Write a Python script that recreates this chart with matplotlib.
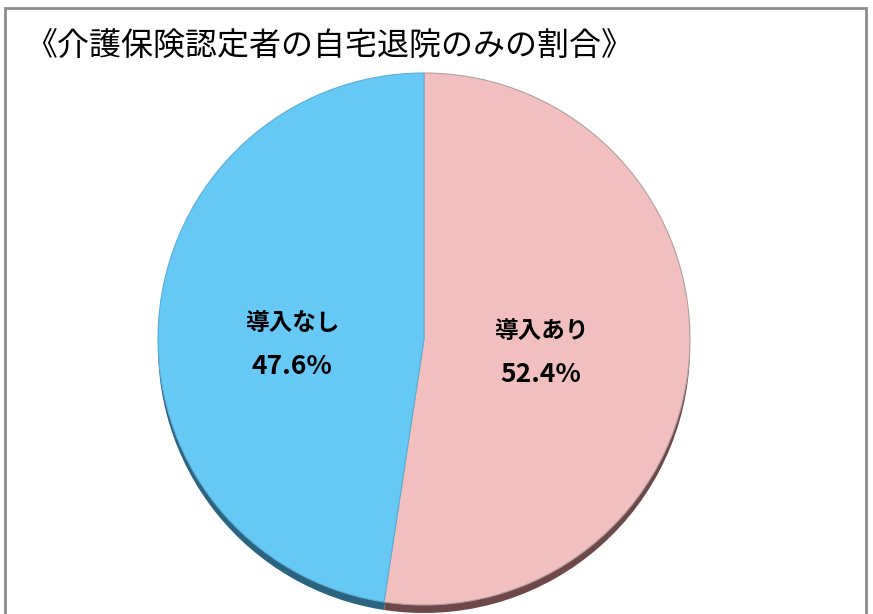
import matplotlib.pyplot as plt
from matplotlib.patches import Rectangle

plt.rcParams['font.family'] = ['Noto Sans CJK JP', 'DejaVu Sans']

labels = ['導入あり', '導入なし']
shares = [52.4, 47.6]
colors = ['#F2BFBF', '#66C8F5']
shadow_colors = ['#6E4848', '#2A6480']

fig = plt.figure(figsize=(8.73, 6.14), dpi=100)
ax = fig.add_axes([0, 0, 1, 1])

# frame around the chart
fig.patches.append(Rectangle((5 / 873, -0.05), 861 / 873, 1.05 - 8 / 614,
                             transform=fig.transFigure, fill=False,
                             edgecolor='#8c8c8c', linewidth=2))

cx, cy, r = 424, 614 - 339, 266

# darker rim underneath to mimic the bevel
ax.pie(shares, colors=shadow_colors, startangle=90, counterclock=False,
       center=(cx, cy - 8), radius=r, frame=True,
       wedgeprops=dict(linewidth=0))

wedges, _ = ax.pie(shares, colors=colors, startangle=90, counterclock=False,
                   center=(cx, cy), radius=r, frame=True,
                   wedgeprops=dict(linewidth=0.8, edgecolor='#b0a0a0'))
wedges[1].set_edgecolor('#5aaed8')

ax.set_xlim(0, 873)
ax.set_ylim(0, 614)
ax.set_aspect('equal')
ax.axis('off')

ax.text(541, 614 - 331, labels[0], ha='center', va='center',
        fontsize=17, fontweight='bold')
ax.text(541, 614 - 374, f'{shares[0]}%', ha='center', va='center',
        fontsize=19, fontweight='bold')
ax.text(292, 614 - 323, labels[1], ha='center', va='center',
        fontsize=17, fontweight='bold')
ax.text(292, 614 - 366, f'{shares[1]}%', ha='center', va='center',
        fontsize=19, fontweight='bold')

fig.text(25 / 873, 1 - 46 / 614, '《介護保険認定者の自宅退院のみの割合》',
         ha='left', va='center', fontsize=23)

fig.savefig('out.png', dpi=100)
